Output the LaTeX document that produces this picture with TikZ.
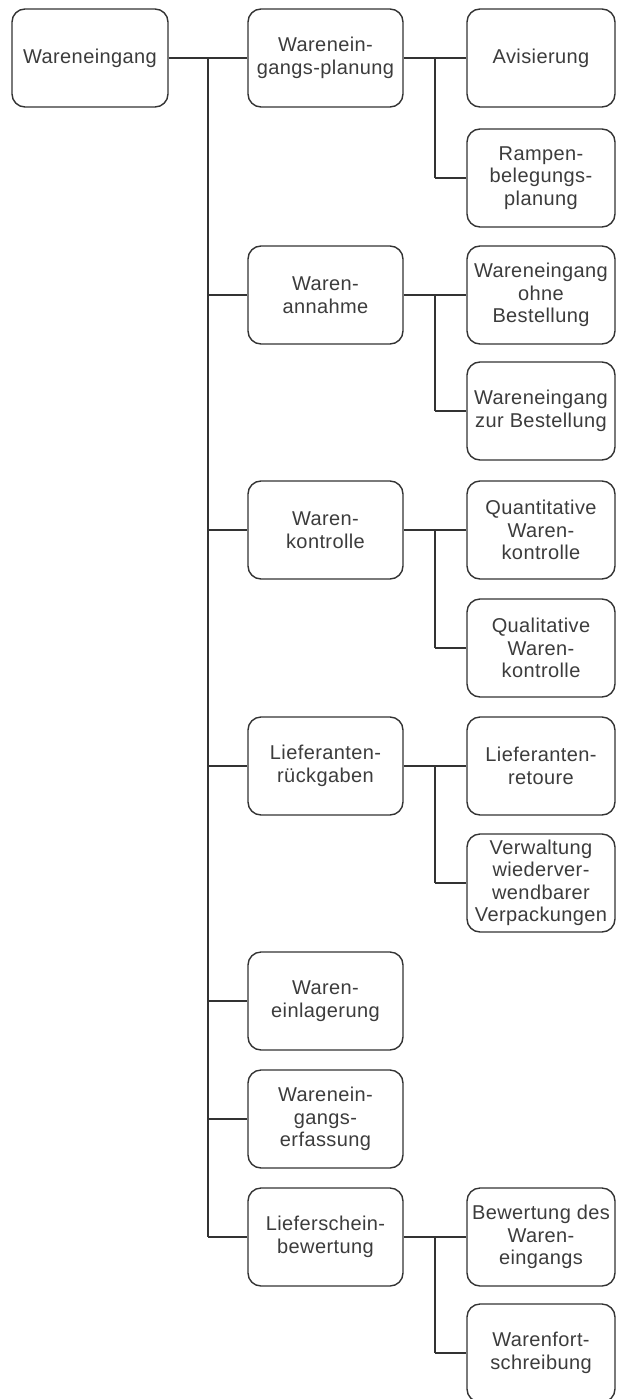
\documentclass[tikz,border=0pt]{standalone}
\usepackage{fontspec}
\setmainfont{Liberation Sans}[LetterSpace=2]
\usepackage{tikz}
\usetikzlibrary{positioning}

\definecolor{linie}{RGB}{51,51,51}
\definecolor{schrift}{RGB}{60,60,60}

\tikzset{
  kasten/.style={draw=linie, line width=1.4pt, rounded corners=13pt, fill=white,
    text=schrift, align=center, inner sep=2pt, minimum height=98pt,
    font=\fontsize{20}{22.5}\selectfont},
  kasten1/.style={kasten, minimum width=156pt},
  kasten2/.style={kasten, minimum width=155pt},
  kasten3/.style={kasten, minimum width=148pt},
  verbindung/.style={draw=linie, line width=1.8pt}
}

\begin{document}
\begin{tikzpicture}[x=1pt, y=-1pt]
\useasboundingbox (0,0) rectangle (616,1399);

% Wurzel und Sammelschienen
\node[kasten1] (root) at (90,58) {Wareneingang};
\coordinate (t) at (208,0);   % senkrechte Hauptlinie
\coordinate (s) at (435,0);   % Abzweig zur dritten Ebene

% Zweite Ebene (7)
\foreach \nr/\y/\txt in {1/58/{Warenein-\\gangs-planung}, 2/295/{Waren-\\annahme},
  3/530/{Waren-\\kontrolle}, 4/766/{Lieferanten-\\rückgaben},
  5/1001/{Waren-\\einlagerung}, 6/1119/{Warenein-\\gangs-\\erfassung},
  7/1237/{Lieferschein-\\bewertung}} {
  \node[kasten2] (p\nr) at (325.5,\y) {\txt};
  \draw[verbindung] (t |- p\nr.west) -- (p\nr.west);
}
\draw[verbindung] (root.east) -- (t |- root.east) -- (t |- p7.west);

% Dritte Ebene
\foreach \nr/\sub/\y/\txt in {1/a/58/{Avisierung}, 1/b/178/{Rampen-\\belegungs-\\planung},
  2/a/295/{Wareneingang\\ohne\\Bestellung}, 2/b/411/{Wareneingang\\zur Bestellung},
  3/a/530/{Quantitative\\Waren-\\kontrolle}, 3/b/648/{Qualitative\\Waren-\\kontrolle},
  4/a/766/{Lieferanten-\\retoure}, 4/b/883/{Verwaltung\\wiederver-\\wendbarer\\Verpackungen},
  7/a/1237/{Bewertung des\\Waren-\\eingangs}, 7/b/1353/{Warenfort-\\schreibung}} {
  \node[kasten3] (k\nr\sub) at (541,\y) {\txt};
  \draw[verbindung] (s |- k\nr\sub.west) -- (k\nr\sub.west);
}

% Abzweige von der zweiten zur dritten Ebene
\foreach \nr in {1,2,3,4,7} {
  \draw[verbindung] (p\nr.east) -- (s |- p\nr.east) -- (s |- k\nr b.west);
}

\end{tikzpicture}
\end{document}
